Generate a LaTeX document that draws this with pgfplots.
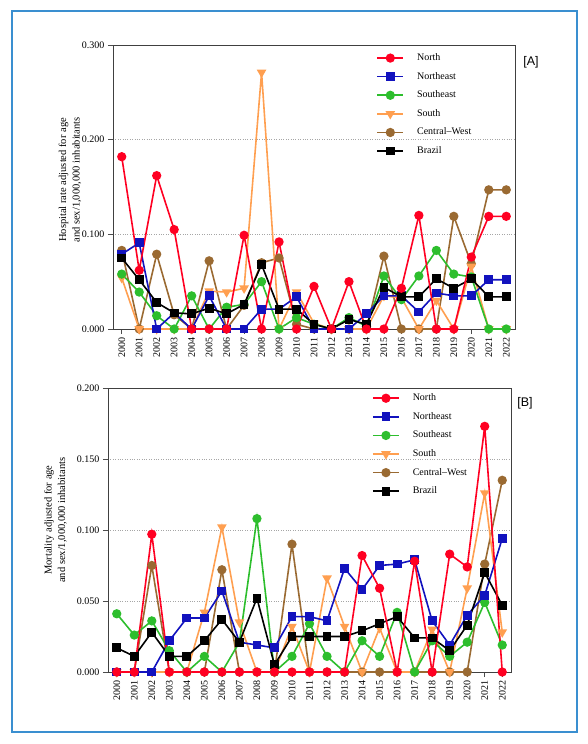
\documentclass[border=0pt]{standalone}
\usepackage{pgfplots}
\pgfplotsset{compat=1.18}
\usepackage{pgfplotstable}
\usepackage{fontspec}
\setmainfont{Liberation Serif}
\newfontfamily\arialfont{Liberation Sans}
\definecolor{cN}{HTML}{FF0022}
\definecolor{cNE}{HTML}{1212BE}
\definecolor{cSE}{HTML}{2DBE2D}
\definecolor{cS}{HTML}{FF9F50}
\definecolor{cCW}{HTML}{9A6A32}
\definecolor{cBR}{HTML}{000000}
\definecolor{frameblue}{HTML}{3A8FD0}

\pgfplotstableread{
x N NE SE S CW BR
0 0.182 0.079 0.058 0.054 0.083 0.075
1 0.062 0.091 0.039 0 0 0.052
2 0.162 0 0.014 0 0.079 0.028
3 0.105 0.017 0 0 0.015 0.017
4 0 0 0.035 0 0 0.016
5 0 0.035 0 0.040 0.072 0.022
6 0 0 0.023 0.039 0 0.016
7 0.099 0 0.026 0.043 0.025 0.026
8 0 0.021 0.050 0.271 0.070 0.068
9 0.092 0.021 0 0 0.075 0.021
10 0 0.034 0.012 0.039 0.005 0.021
11 0.045 0 0.005 0.006 0 0.005
12 0 0 0 0 0 0
13 0.050 0 0.012 0 0 0.010
14 0 0.016 0.003 0 0 0.005
15 0 0.035 0.056 0.035 0.077 0.044
16 0.043 0.035 0.031 0.033 0 0.034
17 0.120 0.018 0.056 0 0 0.034
18 0 0.038 0.083 0.030 0 0.053
19 0 0.035 0.058 0 0.119 0.043
20 0.076 0.035 0.055 0.066 0.069 0.053
21 0.119 0.052 0 0 0.147 0.034
22 0.119 0.052 0 0 0.147 0.034
}\tableA

\pgfplotstableread{
x N NE SE S CW BR
0 0 0 0.041 0 0 0.017
1 0 0 0.026 0 0 0.011
2 0.097 0 0.036 0 0.075 0.028
3 0 0.022 0.015 0 0 0.011
4 0 0.038 0 0 0 0.011
5 0 0.038 0.011 0.042 0 0.022
6 0 0.057 0 0.102 0.072 0.037
7 0 0.021 0.021 0.035 0 0.021
8 0 0.019 0.108 0 0 0.052
9 0 0.017 0 0 0 0.005
10 0 0.039 0.011 0.032 0.090 0.025
11 0 0.039 0.034 0 0 0.025
12 0 0.036 0.011 0.066 0 0.025
13 0 0.073 0 0.032 0 0.025
14 0.082 0.058 0.022 0 0 0.029
15 0.059 0.075 0.011 0.031 0 0.034
16 0 0.076 0.042 0 0 0.039
17 0.078 0.079 0 0 0 0.024
18 0 0.036 0.022 0.030 0 0.024
19 0.083 0.019 0.011 0 0 0.015
20 0.074 0.040 0.021 0.059 0 0.033
21 0.173 0.054 0.049 0.126 0.076 0.070
22 0 0.094 0.019 0.028 0.135 0.047
}\tableB

\pgfplotsset{
  common/.style={
    scale only axis,
    anchor=south west,
    xmin=-0.5, xmax=22.5,
    ymin=0,
    xtick={0,...,22},
    xticklabels={2000,2001,2002,2003,2004,2005,2006,2007,2008,2009,2010,2011,2012,2013,2014,2015,2016,2017,2018,2019,2020,2021,2022},
    x tick label style={rotate=90, anchor=east, font=\fontsize{10}{12}\selectfont},
    y tick label style={font=\fontsize{10}{12}\selectfont},
    /pgf/number format/assume math mode=true,
    yticklabel style={/pgf/number format/fixed, /pgf/number format/fixed zerofill, /pgf/number format/precision=3},
    scaled y ticks=false,
    tick align=outside,
    major tick length=5pt,
    xtick pos=bottom, ytick pos=left,
    tick style={black!70, line width=0.6pt},
    axis line style={black!75, line width=0.8pt},
    ymajorgrids,
    major grid style={gray!70, dotted, line width=0.6pt},
    clip=false,
    ylabel style={font=\fontsize{10.5}{13.5}\selectfont, align=center},
    legend cell align=left,
    legend image code/.code={\draw[mark repeat=2,mark phase=2,line width=1.6pt,#1] plot coordinates {(0pt,0pt) (13pt,0pt) (26pt,0pt)};},
    legend style={draw=none, fill=none, font=\fontsize{10}{12}\selectfont, inner sep=0pt,
      nodes={inner sep=1pt, text height=7pt, text depth=2pt},
      row sep=7.6pt,
      /tikz/every odd column/.append style={column sep=12pt}},
  },
  sN/.style={cN, line width=1.6pt, mark=*, mark size=3.8pt, mark options={solid, fill=cN, draw=cN}},
  sNE/.style={cNE, line width=1.6pt, mark=square*, mark size=3.6pt, mark options={solid, fill=cNE, draw=cNE}},
  sSE/.style={cSE, line width=1.6pt, mark=*, mark size=3.8pt, mark options={solid, fill=cSE, draw=cSE}},
  sS/.style={cS, line width=1.6pt, mark=triangle*, mark size=4pt, mark options={solid, fill=cS, draw=cS, rotate=180}},
  sCW/.style={cCW, line width=1.6pt, mark=*, mark size=3.8pt, mark options={solid, fill=cCW, draw=cCW}},
  sBR/.style={cBR, line width=1.6pt, mark=square*, mark size=3.6pt, mark options={solid, fill=cBR, draw=cBR}},
}

\begin{document}
\begin{tikzpicture}[x=1pt,y=1pt]
\useasboundingbox (0,0) rectangle (588,744);
\draw[frameblue, line width=1.3pt] (12,12) rectangle (577,733);

\begin{axis}[common,
  at={(113pt,415pt)}, width=402pt, height=284pt,
  ymax=0.3, ytick={0,0.1,0.2,0.3},
  ylabel={Hospital rate adjusted for age\\and sex/1,000,000 inhabitants},
  ylabel style={at={(axis description cs:-0.107,0.525)}, anchor=center},
  legend style={at={(axis description cs:0.655,0.974)}, anchor=north west},
]
\addlegendimage{sN}\addlegendentry{North}
\addlegendimage{sNE}\addlegendentry{Northeast}
\addlegendimage{sSE}\addlegendentry{Southeast}
\addlegendimage{sS}\addlegendentry{South}
\addlegendimage{sCW}\addlegendentry{Central--West}
\addlegendimage{sBR}\addlegendentry{Brazil}
\addplot[sCW, forget plot] table[x=x,y=CW] {\tableA};
\addplot[sS, forget plot] table[x=x,y=S] {\tableA};
\addplot[sSE, forget plot] table[x=x,y=SE] {\tableA};
\addplot[sNE, forget plot] table[x=x,y=NE] {\tableA};
\addplot[sBR, forget plot] table[x=x,y=BR] {\tableA};
\addplot[sN, forget plot] table[x=x,y=N] {\tableA};
\end{axis}
\node[font=\arialfont\fontsize{12.5}{14}\selectfont] at (531,682) {[A]};

\begin{axis}[common,
  at={(108pt,72pt)}, width=403pt, height=284pt,
  ymax=0.2, ytick={0,0.05,0.1,0.15,0.2},
  ylabel={Mortality adjusted for age\\and sex/1,000,000 inhabitants},
  ylabel style={at={(axis description cs:-0.13,0.535)}, anchor=center},
  legend style={at={(axis description cs:0.655,0.984)}, anchor=north west},
]
\addlegendimage{sN}\addlegendentry{North}
\addlegendimage{sNE}\addlegendentry{Northeast}
\addlegendimage{sSE}\addlegendentry{Southeast}
\addlegendimage{sS}\addlegendentry{South}
\addlegendimage{sCW}\addlegendentry{Central--West}
\addlegendimage{sBR}\addlegendentry{Brazil}
\addplot[sCW, forget plot] table[x=x,y=CW] {\tableB};
\addplot[sS, forget plot] table[x=x,y=S] {\tableB};
\addplot[sSE, forget plot] table[x=x,y=SE] {\tableB};
\addplot[sNE, forget plot] table[x=x,y=NE] {\tableB};
\addplot[sBR, forget plot] table[x=x,y=BR] {\tableB};
\addplot[sN, forget plot] table[x=x,y=N] {\tableB};
\end{axis}
\node[font=\arialfont\fontsize{12.5}{14}\selectfont] at (525,341) {[B]};
\end{tikzpicture}
\end{document}
